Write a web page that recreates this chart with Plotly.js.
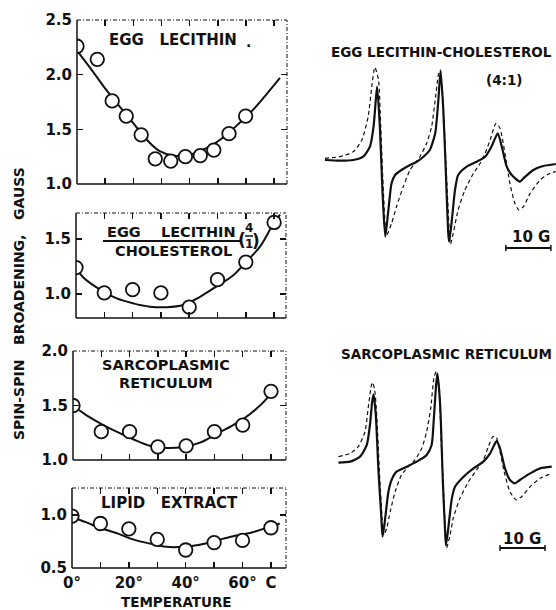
<!DOCTYPE html>
<html>
<head>
<meta charset="utf-8">
<script src="https://cdn.plot.ly/plotly-3.0.1.min.js"></script>
<style>html,body{margin:0;padding:0;background:#fff;}#chart{width:556px;height:610px;}</style>
</head>
<body>
<div id="chart"></div>
<script>
// ---------- Left panels: spin-spin broadening (gauss) vs temperature (deg C) ----------
var tempEgg   = [0, 7.2, 12.5, 17.5, 22.8, 27.8, 33.3, 38.5, 43.8, 48.6, 54, 59.9];
var eggLec    = [2.26, 2.14, 1.76, 1.62, 1.45, 1.23, 1.21, 1.25, 1.26, 1.31, 1.46, 1.62];
var fitEggT   = [0, 5.6, 10.4, 15.1, 19.9, 24.6, 29.4, 34.1, 38.9, 43.6, 48.3, 53.1, 57.8, 62.6, 67.3, 72.1];
var fitEgg    = [2.22, 2.03, 1.86, 1.71, 1.56, 1.41, 1.30, 1.26, 1.26, 1.30, 1.36, 1.45, 1.56, 1.68, 1.82, 1.97];

var temps     = [0, 10, 20, 30, 40, 50, 60, 70];
var eggChol   = [1.24, 1.01, 1.04, 1.01, 0.88, 1.13, 1.29, 1.65];
var fitCholT  = [0, 2.6, 8.5, 14.4, 20.2, 26.1, 32, 37.9, 43.8, 49.7, 55.6, 60, 65, 70, 72.1];
var fitChol   = [1.24, 1.15, 1.04, 0.96, 0.915, 0.885, 0.88, 0.90, 0.975, 1.07, 1.17, 1.29, 1.43, 1.65, 1.72];

var sarco     = [1.50, 1.26, 1.26, 1.12, 1.13, 1.26, 1.32, 1.63];
var fitSarcoT = [0, 4.8, 10.1, 15.4, 21.3, 27.2, 33.1, 39, 44.9, 50.8, 56.6, 62.5, 68.4, 71.4];
var fitSarco  = [1.50, 1.41, 1.33, 1.26, 1.19, 1.13, 1.11, 1.12, 1.16, 1.24, 1.32, 1.42, 1.56, 1.68];

var lipid     = [0.99, 0.92, 0.87, 0.77, 0.67, 0.74, 0.76, 0.88];
var fitLipT   = [0, 5.1, 9.8, 15.6, 21.5, 27.4, 33.2, 39.1, 45, 50.8, 56.7, 62.6, 68.5, 73.1];
var fitLip    = [0.98, 0.93, 0.88, 0.83, 0.77, 0.73, 0.70, 0.70, 0.72, 0.76, 0.80, 0.83, 0.88, 0.92];

var xTickVals  = [0, 10, 20, 30, 40, 50, 60, 70];
var xTickText  = ['0°', '', '20°', '', '40°', '', '60°', 'C'];

// ---------- Right: ESR spectra (field in gauss, amplitude arbitrary) ----------
var elSolidB = [1.1,4.4,7.4,9.6,11.1,11.9,12.4,12.7,13.3,13.9,14.5,15.2,15.9,16.7,18.1,20.0,21.5,23.0,24.4,25.6,26.3,26.8,27.4,28.0,28.5,28.7,29.3,30.0,30.7,32.6,34.8,36.7,38.1,39.5,40.4,41.5,42.6,44.4,45.6,47.4,49.6,52.4];
var elSolidA = [0,-0.07,0,0.33,1.33,3.33,6.0,7.33,3.33,-3.33,-7.67,-5.0,-2.33,-1.5,-1.0,-0.5,-0.17,0.33,1.0,2.67,6.0,8.93,5.0,-1.67,-7.33,-8.17,-6.0,-3.0,-1.5,-0.67,-0.17,0.33,1.33,2.67,1.33,-0.67,-1.5,-2.17,-1.67,-1.0,-0.6,-0.4];
var elDashB  = [1.1,4.4,7.4,9.3,10.7,11.5,12.2,13.0,13.5,14.1,14.8,15.9,17.0,18.5,20.0,21.1,22.2,23.7,24.8,25.6,26.3,26.7,27.6,28.3,29.0,29.6,30.7,32.2,34.1,35.6,36.7,37.8,39.1,40.0,41.1,42.2,43.3,44.2,45.2,46.7,48.9,51.1,52.4];
var elDashA  = [0.17,0.33,0.83,2.0,4.33,7.33,9.27,8.0,3.33,-3.33,-7.5,-6.33,-4.67,-2.67,-1.0,-0.33,0.33,1.67,3.33,6.0,8.5,9.0,3.33,-3.33,-8.4,-7.33,-5.0,-3.0,-1.33,-0.33,0.67,2.0,3.67,3.17,0.67,-2.33,-4.33,-5.0,-4.67,-3.33,-2.0,-1.33,-1.17];

var srSolidB = [4.1,6.7,8.9,10.4,11.1,11.6,11.9,12.4,13.0,13.6,13.9,14.4,15.2,15.9,17.0,19.3,21.5,23.7,24.8,25.3,25.8,26.1,26.7,27.3,27.8,28.0,28.5,29.3,30.0,31.9,34.1,36.3,37.8,38.9,39.3,40.0,41.1,42.2,43.3,44.4,46.7,48.9,51.5];
var srSolidA = [0,0.1,0.6,1.77,3.77,6.1,6.83,4.77,-0.9,-5.23,-7.4,-5.9,-2.9,-1.73,-0.9,-0.4,0.1,0.77,1.77,4.43,7.77,8.93,5.77,-1.9,-6.9,-8.23,-6.57,-3.57,-2.4,-1.4,-0.57,0.1,0.93,1.93,2.17,1.43,-0.57,-1.73,-2.07,-1.73,-1.07,-0.57,-0.4];
var srDashB  = [4.1,6.7,8.5,10.0,10.7,11.3,11.6,12.1,12.6,13.2,13.8,14.2,14.8,15.6,16.7,18.1,19.6,21.1,22.6,23.7,24.6,25.3,25.8,26.4,27.0,27.6,28.1,28.9,29.6,31.1,33.0,34.8,36.3,37.4,38.4,39.1,40.0,41.1,42.2,43.6,44.8,46.7,48.9,51.5];
var srDashA  = [0.6,0.93,1.6,3.1,5.43,7.43,8.03,7.43,4.77,-0.9,-5.57,-7.23,-6.57,-4.9,-2.9,-1.23,-0.4,0.27,1.43,3.1,5.43,8.43,9.1,7.77,1.43,-4.23,-8.57,-7.23,-5.57,-3.57,-1.9,-0.73,0.27,1.6,2.6,2.6,1.1,-1.23,-2.9,-3.73,-3.4,-2.4,-1.57,-1.07];

var scaleBarG = 10;

// ---------- helpers ----------
var W = 556, H = 610;
function px(x) { return x / W; }
function py(y) { return 1 - y / H; }
var FONT = 'DejaVu Sans';
var BLACK = '#111';

var traces = [];
function panel(ax, fitX, fitY, ptX, ptY) {
  traces.push({x: fitX, y: fitY, xaxis: 'x' + ax, yaxis: 'y' + ax, mode: 'lines',
    line: {color: BLACK, width: 2, shape: 'spline', smoothing: 1}, hoverinfo: 'skip'});
  traces.push({x: ptX, y: ptY, xaxis: 'x' + ax, yaxis: 'y' + ax, mode: 'markers',
    marker: {symbol: 'circle', size: 13.5, color: '#fff', line: {color: BLACK, width: 1.8}}});
}
panel('', fitEggT, fitEgg, tempEgg, eggLec);
panel('2', fitCholT, fitChol, temps, eggChol);
panel('3', fitSarcoT, fitSarco, temps, sarco);
panel('4', fitLipT, fitLip, temps, lipid);

function spec(ax, b, a, dashed) {
  traces.push({x: b, y: a, xaxis: 'x' + ax, yaxis: 'y' + ax, mode: 'lines',
    line: {color: BLACK, width: dashed ? 1.2 : 2.2, dash: dashed ? '4px,3px' : 'solid', shape: 'spline', smoothing: 0.6},
    hoverinfo: 'skip'});
}
spec('5', elDashB, elDashA, true);
spec('5', elSolidB, elSolidA, false);
spec('6', srDashB, srDashA, true);
spec('6', srSolidB, srSolidA, false);

var tickFont = {family: FONT, size: 15, color: BLACK, weight: 'bold'};

function xAx(anchor, l, r, maxT, labels) {
  return {anchor: anchor, domain: [px(l), px(r)], range: [0, maxT], tickvals: xTickVals,
    ticktext: xTickText, showticklabels: labels, ticks: 'inside', ticklen: 6, tickwidth: 1.5,
    tickcolor: BLACK, mirror: 'ticks', showline: false, showgrid: false, zeroline: false,
    tickfont: tickFont, ticklabelstandoff: 4, fixedrange: true};
}
function yAx(anchor, top, bot, rng, tv) {
  return {anchor: anchor, domain: [py(bot), py(top)], range: rng, tickvals: tv, tickformat: '.1f',
    ticks: 'inside', ticklen: 6, tickwidth: 1.5, tickcolor: BLACK, mirror: 'ticks', showline: false,
    showgrid: false, zeroline: false, tickfont: tickFont, ticklabelstandoff: 4, fixedrange: true};
}
function hidden(anchor, dom, rng) {
  return {anchor: anchor, domain: dom, range: rng, visible: false, fixedrange: true};
}

var panels = [
  {x: 'x',  y: 'y',  l: 77, r: 287, t: 20,  b: 184},
  {x: 'x2', y: 'y2', l: 76, r: 286, t: 213, b: 318},
  {x: 'x3', y: 'y3', l: 73, r: 286, t: 351, b: 460},
  {x: 'x4', y: 'y4', l: 72, r: 286, t: 488, b: 568}
];

var shapes = [];
panels.forEach(function (p) {
  var xr = p.x + ' domain', yr = p.y + ' domain';
  shapes.push({type: 'line', xref: xr, yref: yr, x0: 0, x1: 0, y0: 0, y1: 1, line: {color: BLACK, width: 1.5}});
  shapes.push({type: 'line', xref: xr, yref: yr, x0: 0, x1: 1, y0: 0, y1: 0, line: {color: BLACK, width: 1.5}});
  shapes.push({type: 'line', xref: xr, yref: yr, x0: 0, x1: 1, y0: 1, y1: 1, line: {color: BLACK, width: 1, dash: '4px,2px,1px,2px'}});
  shapes.push({type: 'line', xref: xr, yref: yr, x0: 1, x1: 1, y0: 0, y1: 1, line: {color: BLACK, width: 1, dash: '4px,2px,1px,2px'}});
});
// underline + fraction bar of panel 2 label
shapes.push({type: 'line', xref: 'paper', yref: 'paper', x0: px(103), x1: px(240), y0: py(241), y1: py(241), line: {color: BLACK, width: 2}});
shapes.push({type: 'line', xref: 'paper', yref: 'paper', x0: px(245), x1: px(253), y0: py(236), y1: py(236), line: {color: BLACK, width: 1.5}});
// 10 G scale bars
function scaleBar(ax, startG, yPix) {
  shapes.push({type: 'line', xref: ax, yref: 'paper', x0: startG, x1: startG + scaleBarG, y0: py(yPix), y1: py(yPix), line: {color: BLACK, width: 2}});
  shapes.push({type: 'line', xref: ax, yref: 'paper', x0: startG, x1: startG, y0: py(yPix - 3), y1: py(yPix + 3), line: {color: BLACK, width: 1.5}});
  shapes.push({type: 'line', xref: ax, yref: 'paper', x0: startG + scaleBarG, x1: startG + scaleBarG, y0: py(yPix - 3), y1: py(yPix + 3), line: {color: BLACK, width: 1.5}});
}
scaleBar('x5', 41.3, 248);
scaleBar('x6', 40.0, 548);

function txt(text, x, y, size, extra) {
  var a = {text: text, x: px(x), y: py(y), xref: 'paper', yref: 'paper', showarrow: false,
    xanchor: 'center', yanchor: 'middle', font: {family: FONT, size: size, color: BLACK, weight: 'bold'}};
  if (extra) for (var k in extra) a[k] = extra[k];
  return a;
}
var NB = '\u00A0';
var annotations = [
  txt('EGG' + NB + NB + NB + 'LECITHIN', 173, 40, 15),
  txt('.', 248, 42, 14),
  txt('EGG' + NB + NB + NB + NB + 'LECITHIN', 171, 232, 14.5),
  txt('CHOLESTEROL', 173, 251, 14.5),
  txt('(', 242, 240, 17),
  txt('4', 249, 228, 12),
  txt('1', 249, 244, 12),
  txt(')', 256, 241, 17),
  txt('SARCOPLASMIC', 166, 365, 14.5),
  txt('RETICULUM', 166, 383, 14.5),
  txt('LIPID' + NB + NB + NB + 'EXTRACT', 169, 503, 15),
  txt('TEMPERATURE', 176, 602, 13.5),
  txt('SPIN-SPIN' + NB + NB + NB + 'BROADENING,' + NB + NB + NB + 'GAUSS', 19, 304, 14, {textangle: -90}),
  txt('EGG LECITHIN-CHOLESTEROL', 441, 52, 13.5),
  txt('(4:1)', 504, 80, 13.5),
  txt('10 G', 531, 237, 15),
  txt('SARCOPLASMIC RETICULUM', 446, 354, 13.5),
  txt('10 G', 522, 539, 15)
];

var layout = {
  width: W, height: H, margin: {l: 0, r: 0, t: 0, b: 0},
  paper_bgcolor: '#fff', plot_bgcolor: 'rgba(0,0,0,0)', showlegend: false,
  xaxis:  xAx('y',  panels[0].l, panels[0].r, 74.6, false),
  yaxis:  yAx('x',  panels[0].t, panels[0].b, [1.0, 2.5], [1.0, 1.5, 2.0, 2.5]),
  xaxis2: xAx('y2', panels[1].l, panels[1].r, 74.2, false),
  yaxis2: yAx('x2', panels[1].t, panels[1].b, [0.782, 1.736], [1.0, 1.5]),
  xaxis3: xAx('y3', panels[2].l, panels[2].r, 75.3, false),
  yaxis3: yAx('x3', panels[2].t, panels[2].b, [1.0, 2.0], [1.0, 1.5, 2.0]),
  xaxis4: xAx('y4', panels[3].l, panels[3].r, 75.3, true),
  yaxis4: yAx('x4', panels[3].t, panels[3].b, [0.5, 1.255], [0.5, 1.0]),
  xaxis5: hidden('y5', [px(320), px(556)], [0, 52.44]),
  yaxis5: hidden('x5', [py(250), py(60)], [-9, 10]),
  xaxis6: hidden('y6', [px(320), px(556)], [0, 52.44]),
  yaxis6: hidden('x6', [py(555), py(365)], [-9.233, 9.767]),
  shapes: shapes,
  annotations: annotations
};

Plotly.newPlot('chart', traces, layout, {staticPlot: true, displayModeBar: false});
</script>
</body>
</html>
